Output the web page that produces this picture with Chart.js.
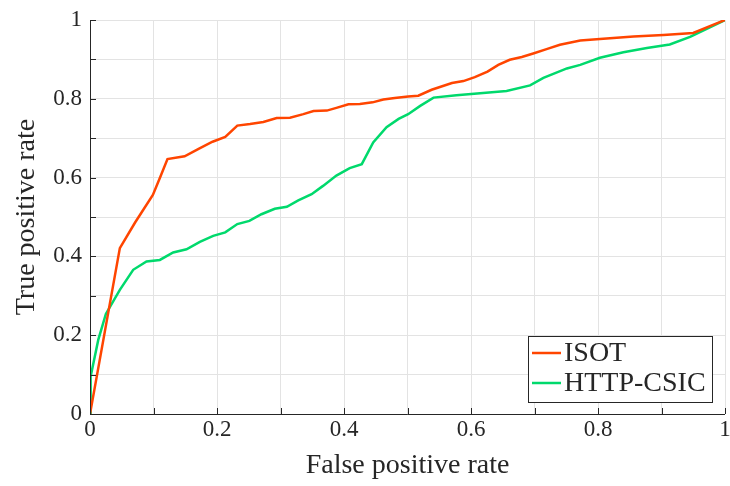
<!DOCTYPE html>
<html>
<head>
<meta charset="utf-8">
<script src="https://cdn.jsdelivr.net/npm/chart.js@4"></script>
<style>
  html, body { margin: 0; padding: 0; background: #fff; }
  #wrap { width: 730px; height: 486px; }
</style>
</head>
<body>
<div id="wrap"><canvas id="roc"></canvas></div>
<script>
// ROC curve values
const isotFpr = [0, 0.047, 0.071, 0.099, 0.110, 0.122, 0.149, 0.171, 0.193, 0.213, 0.232, 0.252, 0.273, 0.294, 0.315, 0.336, 0.352, 0.373, 0.388, 0.407, 0.425, 0.445, 0.462, 0.480, 0.501, 0.517, 0.538, 0.570, 0.588, 0.606, 0.626, 0.643, 0.661, 0.680, 0.698, 0.719, 0.740, 0.772, 0.803, 0.856, 0.903, 0.950, 1];
const isotTpr = [0, 0.421, 0.486, 0.556, 0.599, 0.647, 0.654, 0.673, 0.691, 0.703, 0.732, 0.736, 0.741, 0.751, 0.752, 0.761, 0.769, 0.770, 0.777, 0.786, 0.787, 0.791, 0.798, 0.802, 0.806, 0.808, 0.823, 0.840, 0.845, 0.855, 0.869, 0.886, 0.899, 0.906, 0.915, 0.926, 0.937, 0.948, 0.952, 0.958, 0.962, 0.967, 1];

const csicFpr = [0, 0.001, 0.013, 0.025, 0.047, 0.068, 0.089, 0.110, 0.131, 0.152, 0.173, 0.194, 0.213, 0.232, 0.251, 0.270, 0.291, 0.310, 0.328, 0.349, 0.367, 0.388, 0.409, 0.428, 0.446, 0.467, 0.486, 0.501, 0.520, 0.541, 0.577, 0.619, 0.656, 0.693, 0.714, 0.751, 0.772, 0.803, 0.840, 0.877, 0.913, 0.945, 1];
const csicTpr = [0, 0.095, 0.188, 0.254, 0.315, 0.366, 0.387, 0.391, 0.410, 0.418, 0.437, 0.452, 0.461, 0.482, 0.490, 0.507, 0.521, 0.526, 0.542, 0.558, 0.579, 0.605, 0.624, 0.634, 0.689, 0.728, 0.749, 0.761, 0.782, 0.803, 0.809, 0.815, 0.820, 0.834, 0.853, 0.877, 0.886, 0.904, 0.918, 0.929, 0.938, 0.957, 1];

const seriesNames = ["ISOT", "HTTP-CSIC"];
const seriesColors = ["#ff4500", "#00d96c"];

const serif = "'Liberation Serif', 'DejaVu Serif', serif";
const axisColor = "#262626";

function toPoints(xs, ys) {
  return xs.map((x, i) => ({ x: x, y: ys[i] }));
}

// draws left/bottom axis lines with inward ticks, MATLAB style
const axisPlugin = {
  id: "axisPlugin",
  afterDatasetsDraw(chart) {
    const ctx = chart.ctx;
    const area = chart.chartArea;
    const xs = chart.scales.x;
    const ys = chart.scales.y;
    ctx.save();
    ctx.strokeStyle = axisColor;
    ctx.lineWidth = 1;
    ctx.beginPath();
    ctx.moveTo(area.left + 0.5, area.top);
    ctx.lineTo(area.left + 0.5, area.bottom + 0.5);
    ctx.lineTo(area.right, area.bottom + 0.5);
    xs.ticks.forEach((t) => {
      const px = Math.round(xs.getPixelForValue(t.value)) + 0.5;
      ctx.moveTo(px, area.bottom);
      ctx.lineTo(px, area.bottom - 6);
    });
    ys.ticks.forEach((t) => {
      const py = Math.round(ys.getPixelForValue(t.value)) + 0.5;
      ctx.moveTo(area.left, py);
      ctx.lineTo(area.left + 6, py);
    });
    ctx.stroke();
    ctx.restore();
  },
  // legend box in the lower right corner
  afterDraw(chart) {
    const ctx = chart.ctx;
    const area = chart.chartArea;
    const boxW = 184, boxH = 66;
    const bx = Math.round(area.right - 13 - boxW);
    const by = Math.round(area.bottom - 12 - boxH);
    ctx.save();
    ctx.fillStyle = "#fff";
    ctx.fillRect(bx, by, boxW, boxH);
    ctx.strokeStyle = axisColor;
    ctx.lineWidth = 1;
    ctx.strokeRect(bx + 0.5, by + 0.5, boxW, boxH);
    ctx.font = "28px " + serif;
    ctx.textBaseline = "middle";
    chart.data.datasets.forEach((ds, i) => {
      const cy = by + 17 + i * 30;
      ctx.strokeStyle = ds.borderColor;
      ctx.lineWidth = 2.5;
      ctx.beginPath();
      ctx.moveTo(bx + 4, cy);
      ctx.lineTo(bx + 33, cy);
      ctx.stroke();
      ctx.fillStyle = axisColor;
      ctx.fillText(ds.label, bx + 36, cy + 1);
    });
    ctx.restore();
  },
};

const ctx = document.getElementById("roc").getContext("2d");
new Chart(ctx, {
  type: "scatter",
  data: {
    datasets: [
      {
        label: seriesNames[0],
        data: toPoints(isotFpr, isotTpr),
        showLine: true,
        borderColor: seriesColors[0],
        backgroundColor: seriesColors[0],
        borderWidth: 2.5,
        pointRadius: 0,
        tension: 0,
      },
      {
        label: seriesNames[1],
        data: toPoints(csicFpr, csicTpr),
        showLine: true,
        borderColor: seriesColors[1],
        backgroundColor: seriesColors[1],
        borderWidth: 2.5,
        pointRadius: 0,
        tension: 0,
      },
    ],
  },
  options: {
    responsive: true,
    maintainAspectRatio: false,
    animation: false,
    layout: { padding: { top: 20, right: 5, left: 0, bottom: 0 } },
    plugins: {
      legend: { display: false },
      tooltip: { enabled: false },
    },
    scales: {
      x: {
        type: "linear",
        min: 0,
        max: 1,
        border: { display: false },
        grid: { color: "#e3e3e3", lineWidth: 1, drawTicks: false },
        ticks: {
          stepSize: 0.1,
          padding: 2,
          maxRotation: 0,
          autoSkip: false,
          color: axisColor,
          font: { family: serif, size: 23 },
          callback: function (v) {
            const r = Math.round(v * 10);
            return r % 2 === 0 ? String(r / 10) : "";
          },
        },
        title: {
          display: true,
          text: "False positive rate",
          color: axisColor,
          font: { family: serif, size: 28 },
          padding: { top: 0, bottom: 4 },
        },
        afterFit: function (scale) {
          scale.height = 72;
          scale.paddingLeft = 0;
          scale.paddingRight = 0;
        },
      },
      y: {
        type: "linear",
        min: 0,
        max: 1,
        border: { display: false },
        grid: { color: "#e3e3e3", lineWidth: 1, drawTicks: false },
        ticks: {
          stepSize: 0.1,
          padding: 8,
          autoSkip: false,
          color: axisColor,
          font: { family: serif, size: 23 },
          callback: function (v) {
            const r = Math.round(v * 10);
            return r % 2 === 0 ? String(r / 10) : "";
          },
        },
        title: {
          display: true,
          text: "True positive rate",
          color: axisColor,
          font: { family: serif, size: 28 },
          padding: { top: 10, bottom: 0 },
        },
        afterFit: function (scale) {
          scale.width = 90;
          scale.paddingTop = 0;
          scale.paddingBottom = 0;
        },
      },
    },
  },
  plugins: [axisPlugin],
});
</script>
</body>
</html>
